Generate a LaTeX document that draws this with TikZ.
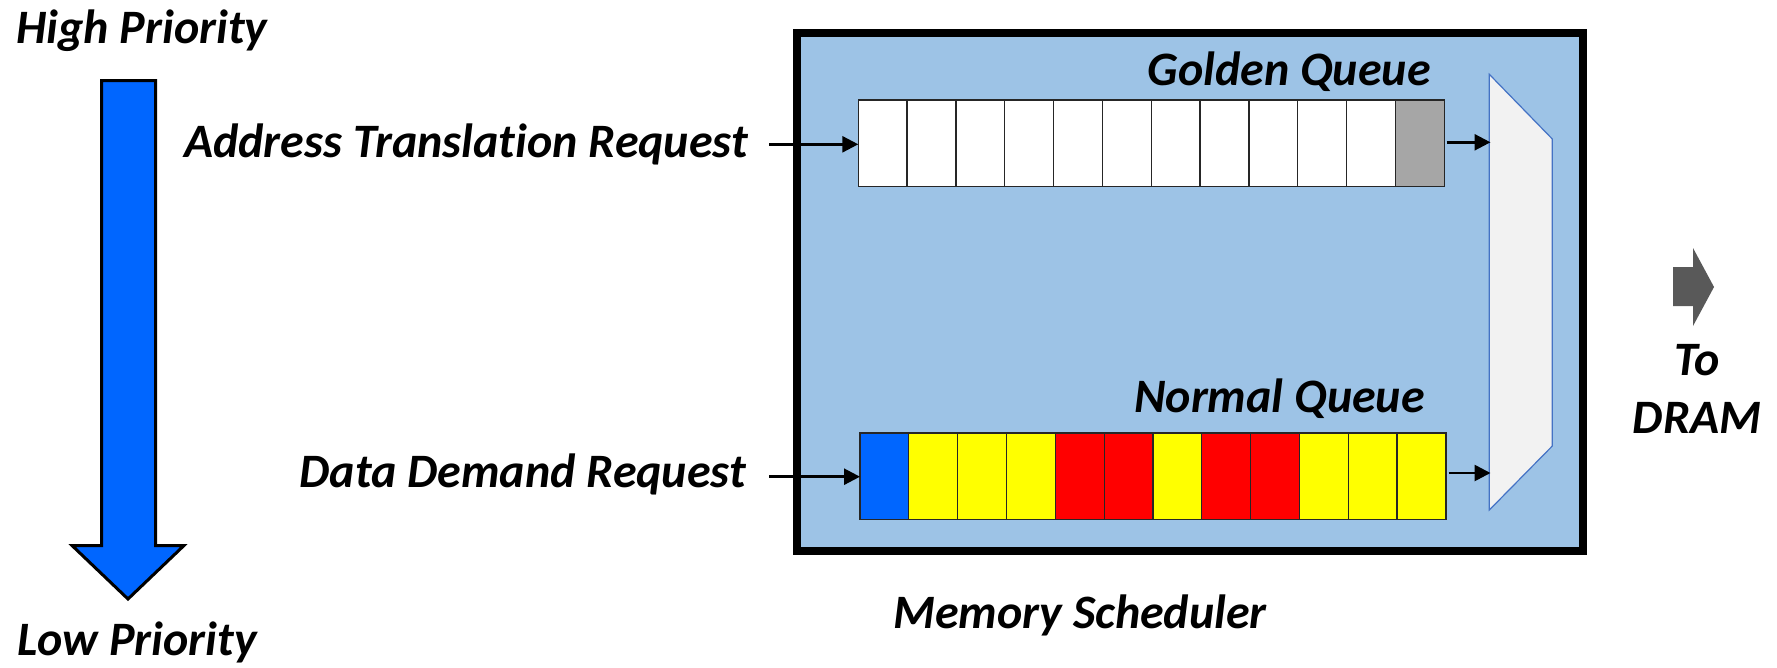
\documentclass[tikz,border=0pt]{standalone}
\usepackage{fontspec}
\setmainfont{Carlito}[Ligatures=NoCommon]
\usetikzlibrary{arrows.meta}
\definecolor{boxblue}{HTML}{9DC3E6}
\definecolor{arrblue}{HTML}{0066FF}
\definecolor{cellgray}{HTML}{A6A6A6}
\definecolor{muxfill}{HTML}{F2F2F2}
\definecolor{muxline}{HTML}{4472C4}
\definecolor{darkgray}{HTML}{595959}
\definecolor{cyel}{HTML}{FFFF00}
\definecolor{cred}{HTML}{FF0000}
\tikzset{
  lbl/.style={font=\fontsize{48}{54}\selectfont\bfseries\itshape, inner sep=0pt, text=black},
  cell/.style={draw=black!85, line width=1.3pt, minimum width=48.83pt, minimum height=86.7pt, inner sep=0pt, outer sep=0pt, fill=white},
  sarrow/.style={line width=2.6pt, -{Triangle[length=16pt,width=16pt]}},
}
\begin{document}
\begin{tikzpicture}[x=1pt,y=-1pt]
\useasboundingbox (0,0) rectangle (1777,667);
% scheduler box
\node[draw=black, line width=8pt, fill=boxblue, minimum width=786pt, minimum height=518pt, inner sep=0pt] (sched) at (1189.5,292) {};
% golden queue
\foreach \i in {1,...,12} {
  \node[cell] (g\i) at ({858.3+48.83*(\i-0.5)},143.3) {};
}
\node[cell, fill=cellgray] at (g12) {};
% normal queue
\foreach \i/\c in {1/arrblue,2/cyel,3/cyel,4/cyel,5/cred,6/cred,7/cyel,8/cred,9/cred,10/cyel,11/cyel,12/cyel} {
  \node[cell, fill=\c] (n\i) at ({860+48.83*(\i-0.5)},476.3) {};
}
% mux
\coordinate (m1) at (1489.3,74.3);
\coordinate (m2) at (1552.3,139);
\coordinate (m3) at (1552.3,446);
\coordinate (m4) at (1489.3,510);
\draw[fill=muxfill, draw=muxline, line width=1.2pt] (m1) -- (m2) -- (m3) -- (m4) -- cycle;
\coordinate (gout) at (1446.7,142.3);
\coordinate (nout) at (1448.5,473);
\coordinate (mg) at (1490.5,142.3);
\coordinate (mn) at (1490.5,473);
\draw[sarrow] (gout) -- (mg);
\draw[sarrow] (nout) -- (mn);
% labels
\node[lbl, anchor=base east] (gq) at (1431,85) {Golden Queue};
\node[lbl, anchor=base east] (nq) at (1425,412) {Normal Queue};
\node[lbl, anchor=base] (ms) at (1080,628) {Memory Scheduler};
\node[lbl, anchor=base west] (atr) at (184,157) {Address Translation Request};
\node[lbl, anchor=base east] (ddr) at (746,487) {Data Demand Request};
\coordinate (ain) at (769,144.3);
\coordinate (din) at (769,476.7);
\draw[sarrow] (ain) -- (g1.west |- ain);
\draw[sarrow] (din) -- (n1.west |- din);
\node[lbl, anchor=base west] (hp) at (16,43) {High Priority};
\node[lbl, anchor=base west] (lp) at (17,655) {Low Priority};
% priority arrow
\draw[fill=arrblue, draw=black, line width=3pt, line join=miter]
  (101.5,80.5) -- (155.5,80.5) -- (155.5,545.5) -- (184,545.5) -- (128,599) -- (72,545.5) -- (101.5,545.5) -- cycle;
% to DRAM arrow
\fill[darkgray] (1673,267) -- (1693,267) -- (1693,248) -- (1714,287) -- (1693,326) -- (1693,306) -- (1673,306) -- cycle;
\node[lbl, anchor=base] (to) at (1697,375) {To};
\node[lbl, anchor=base] (dram) at (1697,433) {DRAM};
\end{tikzpicture}
\end{document}
